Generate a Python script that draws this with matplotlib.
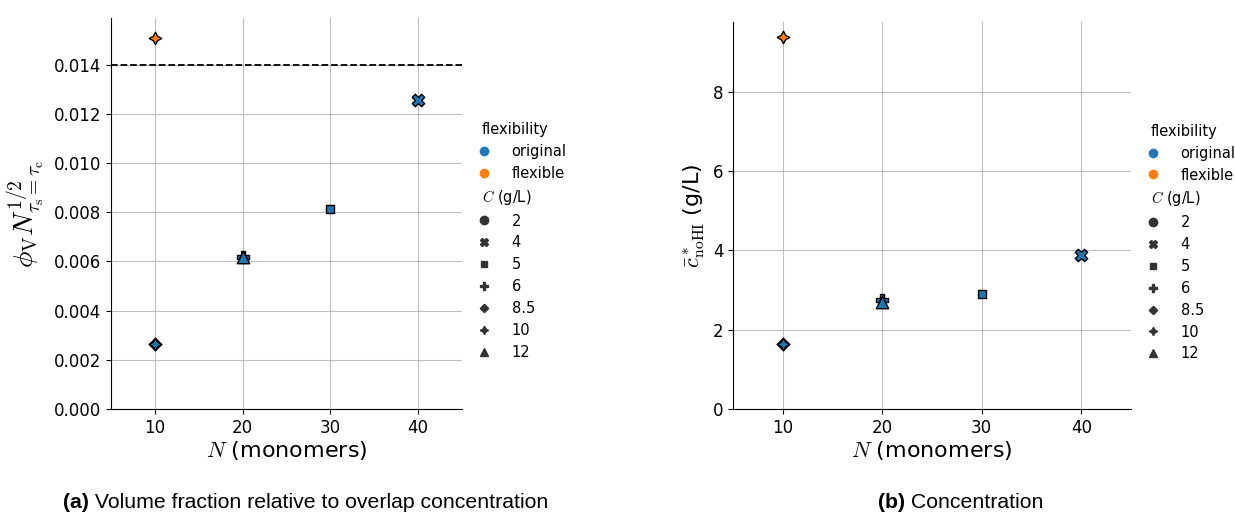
import matplotlib
matplotlib.use("Agg")
import matplotlib.pyplot as plt
from matplotlib.lines import Line2D

plt.rcParams["mathtext.fontset"] = "cm"

# ---- data ----
N_vals = [10, 10, 20, 20, 30, 40, 10]
C_vals = [8.5, 10, 6, 12, 5, 4, 10]
flex_vals = ["original", "original", "original", "original", "original", "original", "flexible"]
phi_vals = [0.00265, 0.00265, 0.0062, 0.0062, 0.00815, 0.01255, 0.0151]
conc_vals = [1.63, 1.63, 2.75, 2.70, 2.90, 3.87, 9.38]

flex_levels = ["original", "flexible"]
C_levels = [2, 4, 5, 6, 8.5, 10, 12]
C_labels = ["2", "4", "5", "6", "8.5", "10", "12"]
phi_ref = 0.014

colors = {"original": "#1f77b4", "flexible": "#ff7f0e"}
marker_list = ["o", "X", (4, 0, 45), "P", (4, 0, 0), (4, 1, 0), "^"]
markers = dict(zip(C_levels, marker_list))

fig = plt.figure(figsize=(12.35, 5.14), dpi=100)
ax1 = fig.add_axes([0.0899, 0.2043, 0.2843, 0.7607])
ax2 = fig.add_axes([0.5935, 0.2043, 0.3223, 0.7527])


def draw(ax, yvals):
    for n, c, f, y in zip(N_vals, C_vals, flex_vals, yvals):
        ax.scatter([n], [y], marker=markers[c], s=80, color=colors[f],
                   edgecolor="black", linewidth=1.0, zorder=3)
    ax.set_xlim(5, 45)
    ax.set_xticks([10, 20, 30, 40])
    ax.grid(True, color="#b0b0b0", linewidth=0.8, alpha=0.8)
    ax.set_axisbelow(True)
    for s in ["top", "right"]:
        ax.spines[s].set_visible(False)
    ax.tick_params(labelsize=12)
    ax.set_xlabel("$N$ (monomers)", fontsize=16, labelpad=2)

    handles = [Line2D([], [], linestyle="none", marker=None)]
    labels = ["flexibility"]
    for f in flex_levels:
        handles.append(Line2D([], [], linestyle="none", marker="o", color=colors[f], markersize=6))
        labels.append(f)
    handles.append(Line2D([], [], linestyle="none", marker=None))
    labels.append("$C$ (g/L)")
    for c, lab in zip(C_levels, C_labels):
        handles.append(Line2D([], [], linestyle="none", marker=markers[c], color="#333333",
                              markersize=6))
        labels.append(lab)
    leg = ax.legend(handles, labels, loc="center left", bbox_to_anchor=(1.0, 0.43),
                    frameon=False, fontsize=10.5, handletextpad=1.3, labelspacing=0.47,
                    handlelength=1.2)
    for t, lab in zip(leg.get_texts(), labels):
        if lab in ("flexibility", "$C$ (g/L)"):
            t.set_position((-30, 0))
    return leg


draw(ax1, phi_vals)
ax1.axhline(phi_ref, color="black", linestyle="--", linewidth=1.3, zorder=2)
ax1.set_ylim(0, 0.0159)
ax1.set_yticks([0, 0.002, 0.004, 0.006, 0.008, 0.010, 0.012, 0.014])
ax1.set_yticklabels(["0.000", "0.002", "0.004", "0.006", "0.008", "0.010", "0.012", "0.014"])
ax1.set_ylabel(r"$\phi_\mathrm{V}N^{1/2}_{\tau_\mathrm{s}=\tau_\mathrm{c}}$", fontsize=20, labelpad=4)

draw(ax2, conc_vals)
ax2.set_ylim(0, 9.75)
ax2.set_yticks([0, 2, 4, 6, 8])
ax2.set_ylabel(r"$\bar{c}^*_\mathrm{noHI}$ (g/L)", fontsize=16)

# captions: bold tag followed by regular text
fig.canvas.draw()
renderer = fig.canvas.get_renderer()


def caption(x_center, tag, rest, y=0.012, fs=15.3):
    t1 = fig.text(0, y, tag, fontsize=fs, family="Liberation Sans", weight="bold")
    t2 = fig.text(0, y, " " + rest, fontsize=fs, family="Liberation Sans")
    w1 = t1.get_window_extent(renderer).width / fig.bbox.width
    w2 = t2.get_window_extent(renderer).width / fig.bbox.width
    x0 = x_center - (w1 + w2) / 2
    t1.set_x(x0)
    t2.set_x(x0 + w1)


caption(0.2478, "(a)", "Volume fraction relative to overlap concentration")
caption(0.7777, "(b)", "Concentration")

fig.savefig("out.png", dpi=100)
